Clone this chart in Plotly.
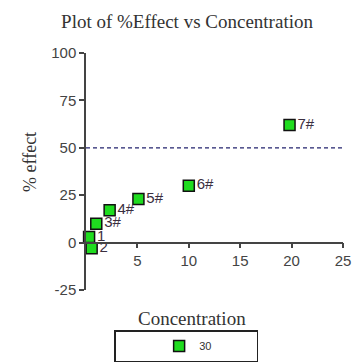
import plotly.graph_objects as go

concentration = [0.3, 0.55, 1.0, 2.3, 5.1, 10.0, 19.8]
effect = [3, -3, 10, 17, 23, 30, 62]
labels = ["1", "2", "3#", "4#", "5#", "6#", "7#"]
series_name = "30"
threshold = 50

y_ticks = [-25, 0, 25, 50, 75, 100]
y_tick_text = ["-25", "0", "25", "50", "75", "100"]
x_ticks = [5, 10, 15, 20, 25]

PL, PR, PT, PB = 86, 343, 53, 290  # plot area pixels


def px(xp):
    return (xp - PL) / (PR - PL)


def py(yp):
    return (PB - yp) / (PB - PT)


fig = go.Figure()
fig.add_trace(go.Scatter(
    x=concentration, y=effect, mode="markers+text", text=labels,
    textposition="middle right",
    textfont=dict(family="Liberation Sans", size=15, color="#3b2f3f"),
    marker=dict(symbol="square", size=11, color="#1fdc1f",
                line=dict(color="#111111", width=1.5)),
    name=series_name, showlegend=True, cliponaxis=False,
))

fig.add_shape(type="line", xref="x", yref="y", x0=0, x1=25, y0=threshold, y1=threshold,
              line=dict(color="#23236e", width=1.3, dash="4px,3px"))

fig.update_layout(
    width=362, height=363,
    margin=dict(l=PL, r=362 - PR, t=PT, b=363 - PB, autoexpand=False),
    paper_bgcolor="white", plot_bgcolor="white",
    title=dict(text="Plot of %Effect vs Concentration", x=187 / 362, xanchor="center",
               y=1 - 21 / 363, yanchor="middle", xref="container", yref="container",
               font=dict(family="Liberation Serif", size=19, color="#333333")),
    xaxis=dict(range=[0, 25], tickvals=x_ticks, showgrid=False, zeroline=False,
               showline=True, linecolor="#444444", linewidth=1.5,
               ticks="outside", ticklen=5, tickwidth=1.5, tickcolor="#444444",
               anchor="free", position=0.2,
               tickfont=dict(family="Liberation Sans", size=15, color="#444444")),
    yaxis=dict(range=[-25, 100], tickvals=y_ticks, ticktext=y_tick_text,
               showgrid=False, zeroline=False,
               showline=True, linecolor="#444444", linewidth=1.5,
               ticks="outside", ticklen=5, tickwidth=1.5, tickcolor="#444444",
               tickfont=dict(family="Liberation Sans", size=15, color="#444444")),
    legend=dict(orientation="h", x=px(186), xanchor="center",
                y=py(362), yanchor="bottom",
                title=dict(text="&nbsp;" * 11, side="left",
                           font=dict(family="Liberation Sans", size=11)),
                bordercolor="#222222", borderwidth=1.5, entrywidth=52,
                font=dict(family="Liberation Sans", size=11, color="#333333")),
    annotations=[
        dict(text="Concentration", xref="paper", yref="paper",
             x=px(192), y=py(318), xanchor="center", yanchor="middle",
             showarrow=False, font=dict(family="Liberation Serif", size=19, color="#333333")),
        dict(text="% effect", xref="paper", yref="paper",
             x=px(30), y=py(162), xanchor="center", yanchor="middle",
             textangle=-90, showarrow=False,
             font=dict(family="Liberation Serif", size=18, color="#333333")),
    ],
)

fig.write_html("out.html")
